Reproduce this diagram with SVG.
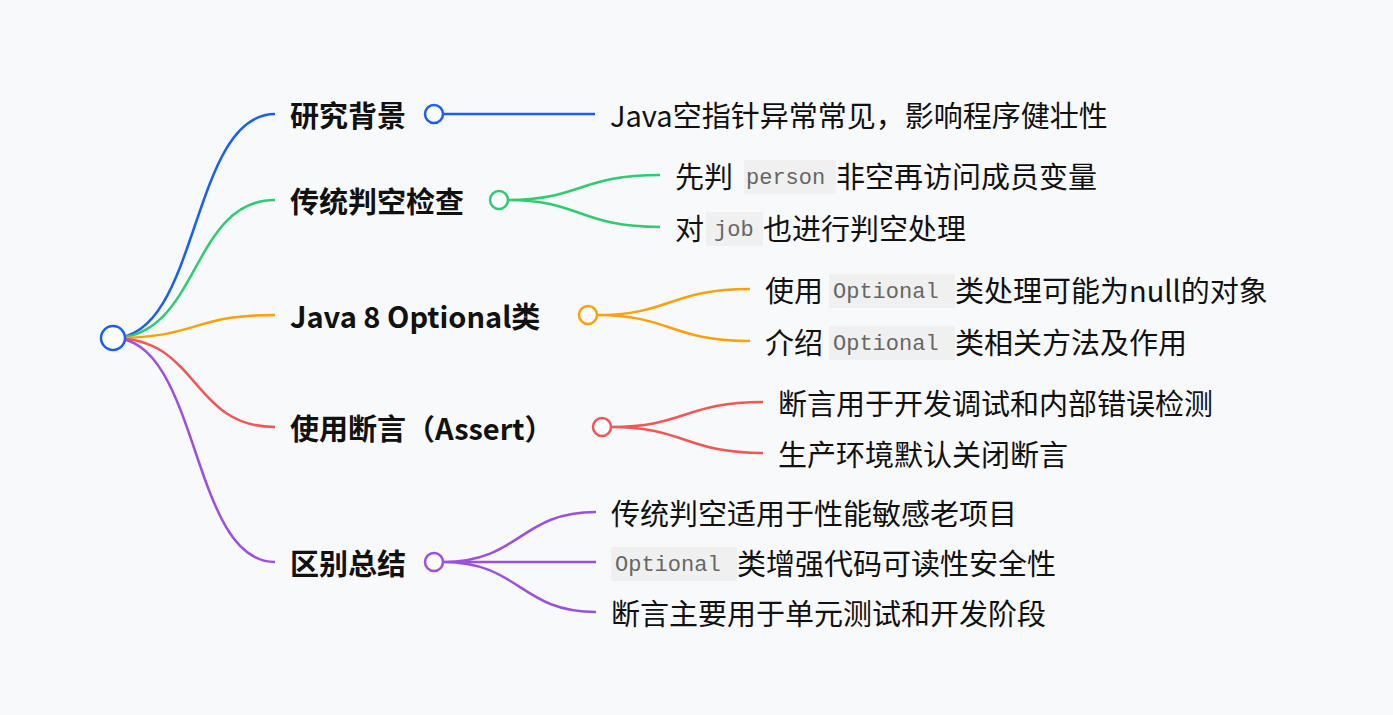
<svg xmlns="http://www.w3.org/2000/svg" width="1393" height="715" viewBox="0 0 1393 715">
<style>
.b{font-family:"Noto Sans CJK SC","Noto Sans",sans-serif;font-weight:bold;font-size:29px;fill:#111;dominant-baseline:central}
.l{font-family:"Noto Sans CJK SC","Noto Sans",sans-serif;font-size:29px;fill:#111;dominant-baseline:central}
.c{font-family:"Liberation Mono",monospace;font-size:22px;fill:#666}
.cb{fill:#f0f0f0}
path,line,circle{fill:none;stroke-width:2.5}
circle{fill:#fff}
</style>
<rect width="1393" height="715" fill="#f8f9fb"/>
<g id="connectors">
<path d="M113,338 C200,338 190,114 275,114" stroke="#1a5ef5"/>
<line x1="443" y1="114" x2="595" y2="114" stroke="#1a5ef5"/>
<path d="M113,338 C200,338 190,200 275,200" stroke="#2ecc71"/>
<path d="M508,200 C580,200 580,175 660,175 M508,200 C580,200 580,227 660,227" stroke="#2ecc71"/>
<path d="M113,338 C200,338 190,315 275,315" stroke="#ff9f0a"/>
<path d="M597,315 C670,315 670,289 750,289 M597,315 C670,315 670,341 750,341" stroke="#ff9f0a"/>
<path d="M113,338 C200,338 190,427 275,427" stroke="#f25757"/>
<path d="M611,427 C685,427 685,402 763,402 M611,427 C685,427 685,453 763,453" stroke="#f25757"/>
<path d="M113,338 C200,338 190,562 275,562" stroke="#9b51e0"/>
<path d="M443,562 C520,562 520,512 596,512 M443,562 L596,562 M443,562 C520,562 520,612 596,612" stroke="#9b51e0"/>
</g>
<g id="root"><circle cx="113" cy="338" r="12" stroke="#1a5ef5"/></g>
<g id="n1"><text class="b" x="290" y="114">研究背景</text><circle cx="434" cy="114" r="9" stroke="#1a5ef5"/></g>
<g id="n1a"><text class="l" x="610" y="114">Java空指针异常常见，影响程序健壮性</text></g>
<g id="n2"><text class="b" x="290" y="200">传统判空检查</text><circle cx="499" cy="200" r="9" stroke="#2ecc71"/></g>
<g id="n2a"><text class="l" x="675" y="175">先判</text><rect class="cb" x="744" y="160" width="92" height="34"/><text class="c" x="746" y="184">person</text><text class="l" x="836" y="175">非空再访问成员变量</text></g>
<g id="n2b"><text class="l" x="675" y="227">对</text><rect class="cb" x="706" y="212" width="57" height="34"/><text class="c" x="714" y="236">job</text><text class="l" x="763" y="227">也进行判空处理</text></g>
<g id="n3"><text class="b" x="290" y="315">Java 8 Optional类</text><circle cx="588" cy="315" r="9" stroke="#ff9f0a"/></g>
<g id="n3a"><text class="l" x="765" y="289">使用</text><rect class="cb" x="829" y="274" width="126" height="34"/><text class="c" x="833" y="298">Optional</text><text class="l" x="955" y="289">类处理可能为null的对象</text></g>
<g id="n3b"><text class="l" x="765" y="341">介绍</text><rect class="cb" x="829" y="326" width="126" height="34"/><text class="c" x="833" y="350">Optional</text><text class="l" x="955" y="341">类相关方法及作用</text></g>
<g id="n4"><text class="b" x="290" y="427">使用断言（Assert）</text><circle cx="602" cy="427" r="9" stroke="#f25757"/></g>
<g id="n4a"><text class="l" x="778" y="402">断言用于开发调试和内部错误检测</text></g>
<g id="n4b"><text class="l" x="778" y="453">生产环境默认关闭断言</text></g>
<g id="n5"><text class="b" x="290" y="562">区别总结</text><circle cx="434" cy="562" r="9" stroke="#9b51e0"/></g>
<g id="n5a"><text class="l" x="611" y="512">传统判空适用于性能敏感老项目</text></g>
<g id="n5b"><rect class="cb" x="611" y="547" width="126" height="34"/><text class="c" x="615" y="571">Optional</text><text class="l" x="737" y="562">类增强代码可读性安全性</text></g>
<g id="n5c"><text class="l" x="611" y="612">断言主要用于单元测试和开发阶段</text></g>
</svg>
